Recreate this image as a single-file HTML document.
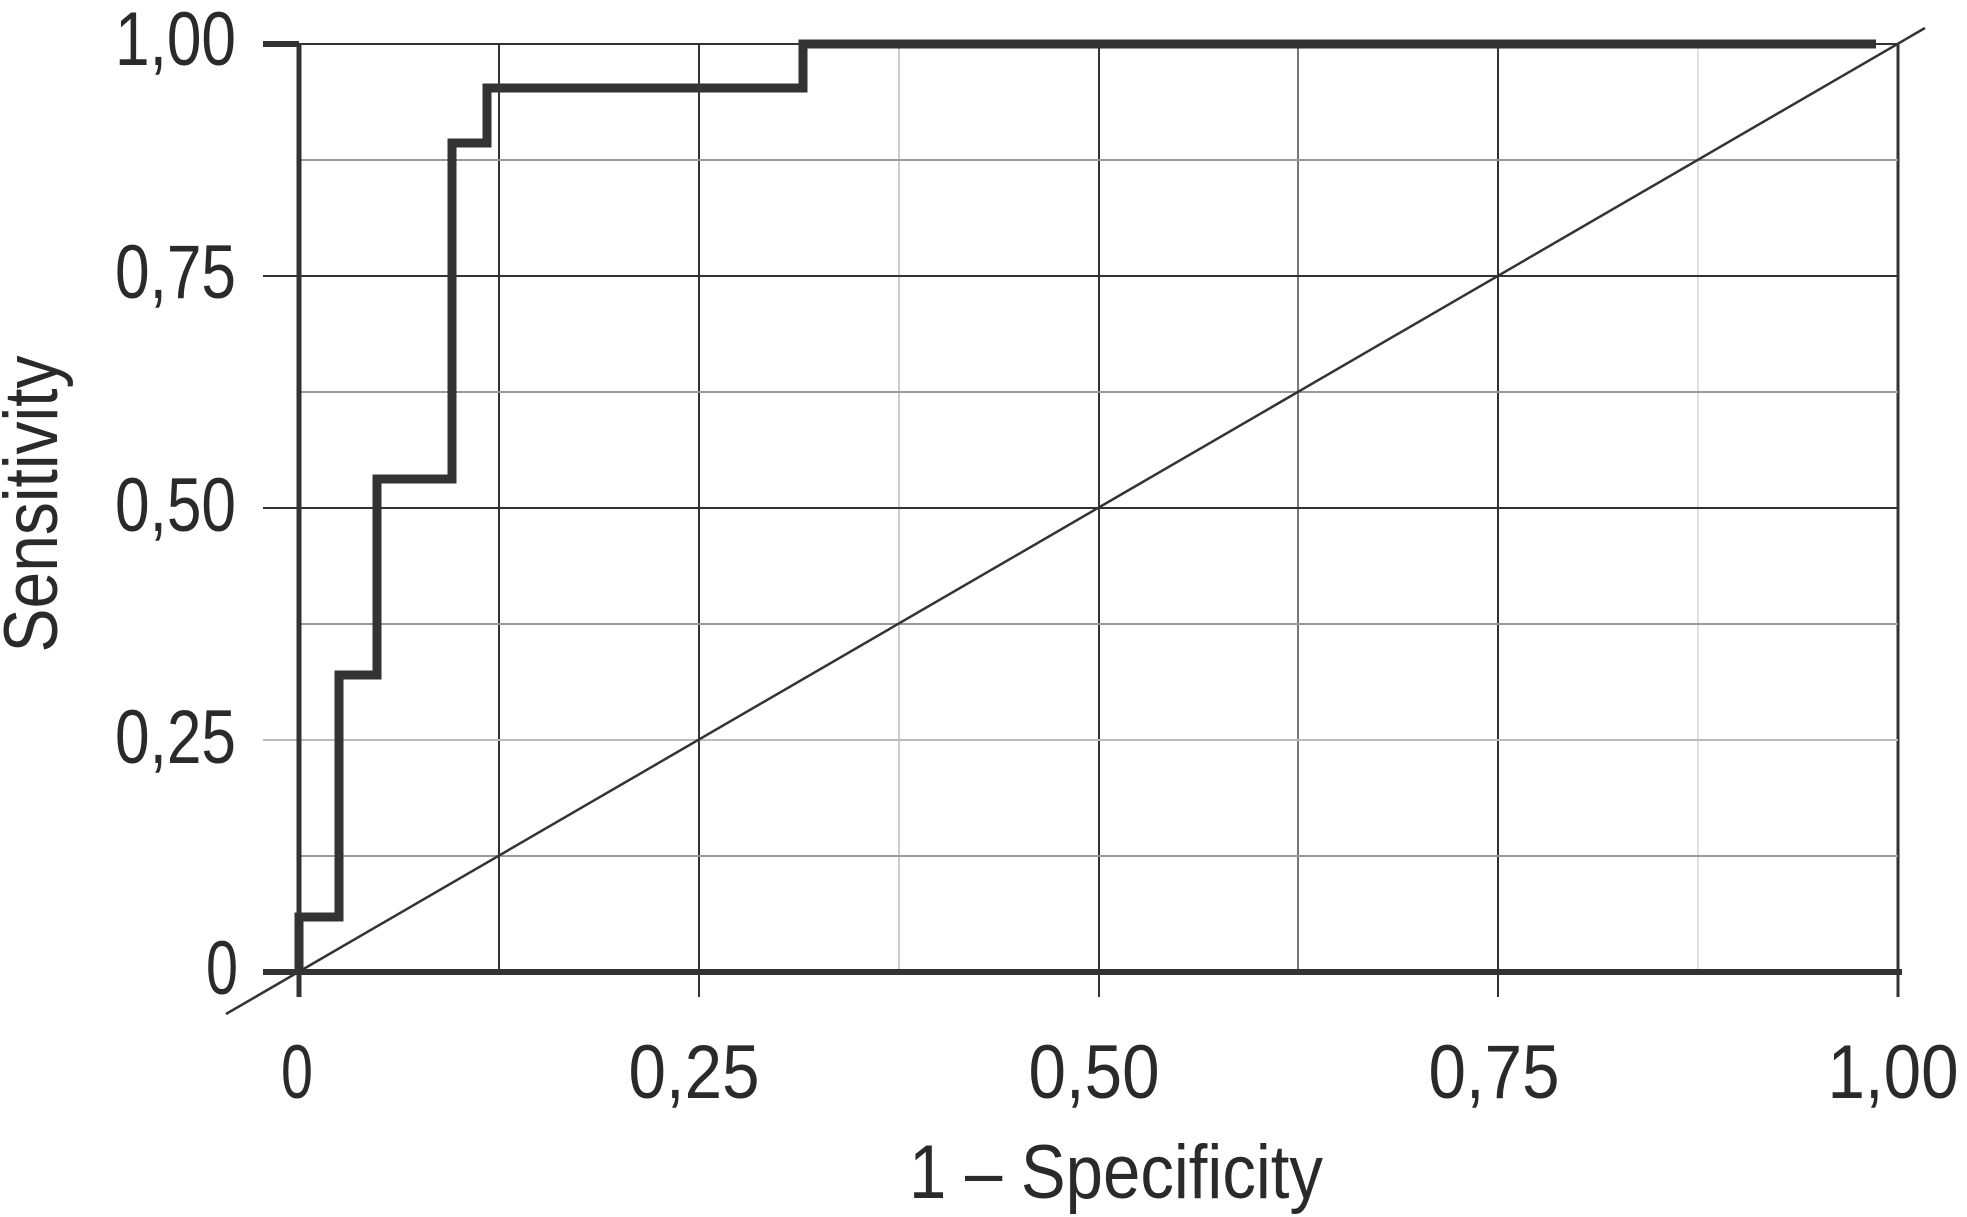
<!DOCTYPE html>
<html><head><style>html,body{margin:0;padding:0;background:#fff}svg{display:block}</style></head>
<body>
<svg width="1967" height="1217" viewBox="0 0 1967 1217" xmlns="http://www.w3.org/2000/svg" font-family="Liberation Sans, sans-serif" fill="#2a2a2a">
<g stroke-width="2">
<line x1="499" y1="44" x2="499" y2="972" stroke="#333"/>
<line x1="699" y1="44" x2="699" y2="997" stroke="#333"/>
<line x1="899" y1="44" x2="899" y2="972" stroke="#ccc"/>
<line x1="1099" y1="44" x2="1099" y2="997" stroke="#333"/>
<line x1="1298" y1="44" x2="1298" y2="972" stroke="#777"/>
<line x1="1498" y1="44" x2="1498" y2="997" stroke="#333"/>
<line x1="1698" y1="44" x2="1698" y2="972" stroke="#e0e0e0"/>
<line x1="1898" y1="44" x2="1898" y2="997" stroke="#333" stroke-width="3"/>
<line x1="299" y1="160" x2="1898" y2="160" stroke="#999"/>
<line x1="263" y1="276" x2="1898" y2="276" stroke="#333"/>
<line x1="299" y1="392" x2="1898" y2="392" stroke="#999"/>
<line x1="263" y1="508" x2="1898" y2="508" stroke="#333"/>
<line x1="299" y1="624" x2="1898" y2="624" stroke="#999"/>
<line x1="263" y1="740" x2="1898" y2="740" stroke="#bbb"/>
<line x1="299" y1="856" x2="1898" y2="856" stroke="#999"/>
<line x1="299" y1="44" x2="1898" y2="44" stroke="#333"/>
<line x1="263" y1="44" x2="299" y2="44" stroke="#333" stroke-width="6"/>
<line x1="263" y1="972" x2="1902" y2="972" stroke="#333" stroke-width="6"/>
<line x1="299" y1="44" x2="299" y2="997" stroke="#333" stroke-width="5"/>
</g>
<line x1="226" y1="1014" x2="1925" y2="28" stroke="#333" stroke-width="2.5"/>
<polyline fill="none" stroke="#333" stroke-width="9" points="299,972 299,917 339,917 339,675 377,675 377,479 452,479 452,143 487,143 487,88 803,88 803,44 1876,44"/>
<g font-size="76" text-anchor="end">
<text x="236" y="65" textLength="121" lengthAdjust="spacingAndGlyphs">1,00</text>
<text x="236" y="298" textLength="121" lengthAdjust="spacingAndGlyphs">0,75</text>
<text x="236" y="531" textLength="121" lengthAdjust="spacingAndGlyphs">0,50</text>
<text x="236" y="763" textLength="121" lengthAdjust="spacingAndGlyphs">0,25</text>
<text x="238" y="994" textLength="32" lengthAdjust="spacingAndGlyphs">0</text>
</g>
<g font-size="76" text-anchor="middle">
<text x="297" y="1098" textLength="32" lengthAdjust="spacingAndGlyphs">0</text>
<text x="694" y="1098" textLength="131" lengthAdjust="spacingAndGlyphs">0,25</text>
<text x="1094" y="1098" textLength="131" lengthAdjust="spacingAndGlyphs">0,50</text>
<text x="1494" y="1098" textLength="131" lengthAdjust="spacingAndGlyphs">0,75</text>
<text x="1893" y="1098" textLength="131" lengthAdjust="spacingAndGlyphs">1,00</text>
<text x="1116" y="1198" textLength="414" lengthAdjust="spacingAndGlyphs">1 – Specificity</text>
</g>
<text transform="translate(57,504) rotate(-90)" font-size="76" text-anchor="middle" textLength="297" lengthAdjust="spacingAndGlyphs">Sensitivity</text>
</svg>
</body></html>
